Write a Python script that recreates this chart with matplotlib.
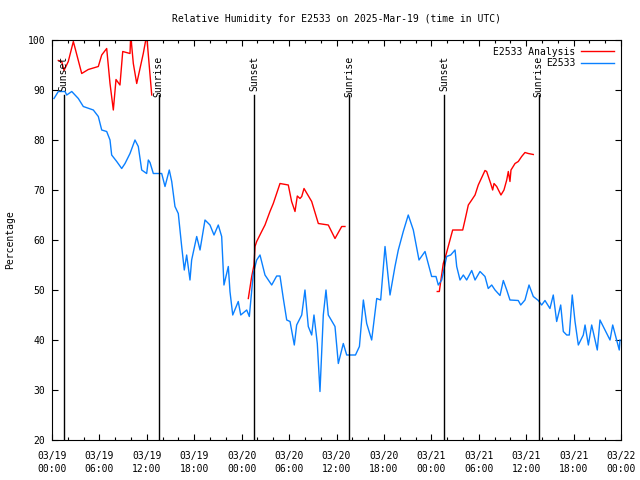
import matplotlib
matplotlib.use('Agg')
import matplotlib.pyplot as plt
import matplotlib.dates as mdates
import numpy as np
import pandas as pd

# hours after 2025-03-19 00:00 UTC
start = pd.Timestamp('2025-03-19 00:00')

obs_hours = [0.25, 0.8, 1.65, 1.86, 2.5, 3.33, 3.96, 5.23, 5.86, 6.29, 6.92, 7.34, 7.55,
             8.19, 8.82, 9.24, 9.87, 10.5, 10.92, 11.35, 11.98, 12.19, 12.4, 12.82, 13.88,
             14.3, 14.84, 15.15, 15.56, 15.98, 16.41, 16.74, 17.04, 17.46, 17.67, 18.31,
             18.73, 19.36, 19.99, 20.5, 21.04, 21.47, 21.76, 22.31, 22.52, 22.87, 23.57,
             23.88, 24.64, 24.97, 25.47, 25.9, 26.32, 26.95, 27.8, 28.43, 28.85, 29.27,
             29.7, 30.12, 30.66, 30.96, 31.6, 32.01, 32.43, 32.86, 33.15, 33.57, 33.91,
             34.33, 34.67, 34.96, 35.81, 36.23, 36.86, 37.29, 38.12, 38.4, 38.9, 39.4,
             39.82, 40.45, 41.09, 41.59, 42.14, 42.77, 43.4, 43.82, 44.45, 45.08, 45.72,
             46.44, 47.2, 48.04, 48.59, 48.88, 49.31, 49.94, 50.45, 51.0, 51.21, 51.63,
             52.05, 52.47, 53.11, 53.53, 54.16, 54.79, 55.2, 55.64, 56.06, 56.69, 57.11,
             57.54, 57.95, 59.0, 59.31, 59.85, 60.36, 60.9, 61.54, 61.96, 62.38, 63.01,
             63.43, 63.86, 64.37, 64.7, 65.13, 65.46, 65.83, 66.18, 66.6, 67.23, 67.45,
             67.87, 68.29, 69.0, 69.34, 69.97, 70.61, 70.95, 71.45, 71.78, 71.87]
obs_rh = [88.3, 89.7, 89.7, 89.0, 89.7, 88.3, 86.7, 86.0, 84.7, 82.0, 81.7, 80.0, 77.0,
          75.7, 74.3, 75.3, 77.3, 80.0, 78.7, 74.0, 73.3, 76.0, 75.5, 73.3, 73.3,
          70.7, 74.0, 71.7, 66.7, 65.3, 58.7, 54.0, 57.0, 52.0, 56.0, 60.7,
          58.0, 64.0, 63.0, 61.0, 63.0, 60.7, 51.0, 54.7, 49.7, 45.0, 47.7,
          45.0, 46.0, 44.7, 53.3, 56.0, 57.0, 53.0, 51.0, 52.8, 52.8, 48.3,
          44.0, 43.7, 39.0, 43.0, 45.0, 50.0, 42.7, 41.0, 45.0, 39.3, 29.7,
          45.0, 50.0, 45.0, 42.7, 35.3, 39.3, 37.0, 37.0, 37.0, 38.7, 48.0,
          43.3, 40.0, 48.3, 48.0, 58.7, 49.0, 54.7, 58.0, 61.7, 65.0, 62.0,
          56.0, 57.7, 52.7, 52.7, 51.0, 52.0, 56.7, 57.0, 58.0, 54.7, 52.0,
          53.0, 52.0, 53.9, 52.0, 53.7, 52.7, 50.3, 51.0, 50.0, 48.9, 51.9,
          50.0, 48.0, 47.9, 47.0, 48.0, 51.0, 48.7, 47.9, 47.0, 47.9, 46.3,
          49.0, 43.7, 47.0, 41.7, 41.0, 41.0, 49.0, 43.7, 39.0, 41.0, 43.0,
          39.0, 43.0, 38.0, 44.0, 42.0, 40.0, 43.0, 40.0, 38.0, 40.0]

# analysis series, NaN marks the gaps
ana_hours = [0.8, 1.23, 1.52, 2.06, 2.7, 3.76, 4.59, 5.86, 6.29, 6.92, 7.34, 7.76, 8.1,
             8.6, 8.95, 9.87, 9.96, 10.29, 10.72, 11.55, 11.98, 12.19, 12.62,
             18.0,
             24.84, 25.27, 25.56, 25.69, 25.9, 26.53, 26.95, 27.58, 28.0, 28.85, 29.9,
             30.32, 30.75, 31.04, 31.38, 31.6, 31.89, 32.86, 33.7, 34.96, 35.81, 36.66,
             37.07,
             43.0,
             48.75, 49.01, 49.51, 49.85, 50.36, 50.7, 51.97, 52.26, 52.68, 53.11, 53.53,
             53.94, 54.79, 55.0, 55.51, 55.76, 55.93, 56.27, 56.81, 57.19, 57.54, 57.74,
             57.95, 58.08, 58.59, 59.0, 59.43, 59.85, 60.27, 60.9]
ana_rh = [95.9, 95.7, 93.9, 95.7, 99.7, 93.3, 94.1, 94.7, 97.0, 98.3, 91.3, 86.0, 92.1,
          91.0, 97.7, 97.3, 101.0, 95.3, 91.3, 97.3, 101.0, 97.0, 89.0,
          np.nan,
          48.3, 52.7, 55.0, 58.7, 59.7, 61.7, 63.0, 65.7, 67.3, 71.3, 71.0,
          67.7, 65.7, 68.8, 68.3, 68.7, 70.3, 67.7, 63.3, 63.0, 60.3, 62.7,
          62.7,
          np.nan,
          49.7, 49.7, 55.3, 57.0, 60.0, 62.0, 62.0, 64.0, 67.0, 68.0, 69.0,
          71.0, 73.9, 73.7, 71.3, 70.0, 71.3, 70.7, 69.0, 70.0, 72.0, 73.7,
          71.7, 74.0, 75.3, 75.7, 76.7, 77.5, 77.3, 77.1]

event_hours = [1.5, 13.5, 25.6, 37.6, 49.6, 61.6]
event_names = ['Sunset', 'Sunrise', 'Sunset', 'Sunrise', 'Sunset', 'Sunrise']


def to_time(hours):
    return start + pd.to_timedelta(np.array(hours), unit='h')


plt.rcParams['font.family'] = ['DejaVu Sans Mono']

fig = plt.figure(figsize=(6.4, 4.8), dpi=100)
ax = fig.add_axes([52 / 640, 40 / 480, 569 / 640, 400 / 480])

ax.plot(to_time(ana_hours), ana_rh, color='#ff0000', lw=1.0, label='E2533 Analysis')
ax.plot(to_time(obs_hours), obs_rh, color='#0a80ff', lw=1.0, label='E2533')

# sunrise / sunset markers
for h, name in zip(event_hours, event_names):
    t = to_time([h])[0]
    ax.plot([t, t], [20, 89], color='black', lw=1.0)
    ax.text(t, 96.8, name, rotation=90, ha='center', va='top', fontsize=7)

ax.set_xlim(start, start + pd.Timedelta(hours=72))
ax.set_ylim(20, 100)
ax.set_yticks(np.arange(20, 101, 10))

ax.xaxis.set_major_locator(mdates.HourLocator(byhour=[0, 6, 12, 18]))
ax.xaxis.set_minor_locator(mdates.HourLocator(byhour=range(0, 24, 2)))
ax.xaxis.set_major_formatter(mdates.DateFormatter('%m/%d\n%H:%M'))

ax.tick_params(axis='both', which='both', direction='in', top=True, right=True,
               labelsize=7, width=0.8)
ax.tick_params(axis='x', which='major', length=4.5, pad=8)
ax.tick_params(axis='x', which='minor', length=2.5)
ax.tick_params(axis='y', which='major', length=4.5, pad=5)
for lbl in ax.get_xticklabels():
    lbl.set_linespacing(1.3)

for s in ax.spines.values():
    s.set_linewidth(0.8)

ax.set_title('Relative Humidity for E2533 on 2025-Mar-19 (time in UTC)', fontsize=7, pad=13)
ax.set_ylabel('Percentage', fontsize=7, labelpad=9)

ax.legend(loc='upper right', frameon=False, markerfirst=False, fontsize=7,
          handlelength=3.4, handletextpad=0.6, labelspacing=0.15, borderaxespad=0.3)

fig.savefig('out.png', dpi=100)
